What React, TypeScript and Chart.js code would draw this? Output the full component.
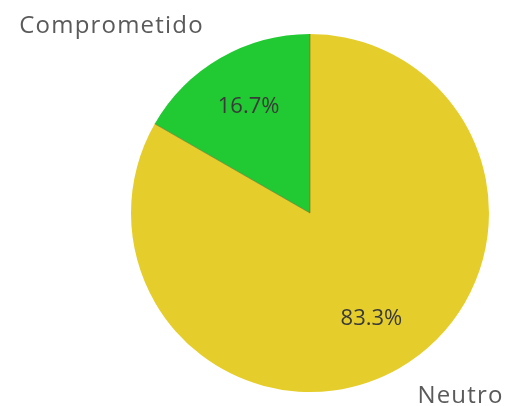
import React, { useEffect, useRef } from "react";
import { Chart, registerables } from "chart.js";

Chart.register(...registerables);

const categories = ["Neutro", "Comprometido"];
const values = [83.3, 16.7];
const percentLabels = ["83.3%", "16.7%"];
const colors = ["#E5CE2B", "#21C933"];

const labelsPlugin = {
  id: "pieLabels",
  afterDatasetsDraw(chart: any) {
    const ctx = chart.ctx;
    const meta = chart.getDatasetMeta(0);
    ctx.save();
    // divider lines between slices
    ctx.strokeStyle = "rgba(110,100,30,0.55)";
    ctx.lineWidth = 1;
    meta.data.forEach((arc: any) => {
      const { x, y, startAngle, outerRadius } = arc.getProps(
        ["x", "y", "startAngle", "outerRadius"],
        true
      );
      ctx.beginPath();
      ctx.moveTo(x, y);
      ctx.lineTo(x + Math.cos(startAngle) * outerRadius, y + Math.sin(startAngle) * outerRadius);
      ctx.stroke();
    });
    meta.data.forEach((arc: any, i: number) => {
      const { x, y, startAngle, endAngle, outerRadius } = arc.getProps(
        ["x", "y", "startAngle", "endAngle", "outerRadius"],
        true
      );
      const mid = (startAngle + endAngle) / 2;
      const d = outerRadius * 0.685;
      const px = x + Math.cos(mid) * d;
      const py = y + Math.sin(mid) * d;
      ctx.font = "22px 'Open Sans'";
      ctx.fillStyle = "#3a3a3a";
      ctx.textAlign = "center";
      ctx.textBaseline = "middle";
      ctx.fillText(percentLabels[i], px, py);
    });
    // outer category labels
    const arc0 = meta.data[0];
    const cx = arc0.x;
    const cy = arc0.y;
    const r = arc0.outerRadius;
    ctx.font = "24px 'Open Sans'";
    (ctx as any).letterSpacing = "1.2px";
    ctx.fillStyle = "#5a5a5a";
    ctx.textBaseline = "alphabetic";
    ctx.textAlign = "right";
    ctx.fillText(categories[1], cx - r * 0.6 + 1.2, cy - r * 1.005);
    ctx.textAlign = "left";
    ctx.fillText(categories[0], cx + r * 0.6, cy + r * 1.06);
    ctx.restore();
  },
};

export default function App() {
  const ref = useRef<HTMLCanvasElement>(null);
  useEffect(() => {
    document.body.style.margin = "0";
    const chart = new Chart(ref.current!, {
      type: "pie",
      data: {
        labels: categories,
        datasets: [
          {
            data: values,
            backgroundColor: colors,
            borderWidth: 0,
          },
        ],
      },
      options: {
        animation: false,
        responsive: false,
        layout: { padding: { top: 34, bottom: 14, left: 131, right: 16 } },
        plugins: {
          legend: { display: false },
          tooltip: { enabled: false },
        },
      },
      plugins: [labelsPlugin],
    });
    return () => chart.destroy();
  }, []);
  return (
    <div style={{ width: 505, height: 406, background: "#fff" }}>
      <canvas ref={ref} width={505} height={406} />
    </div>
  );
}
